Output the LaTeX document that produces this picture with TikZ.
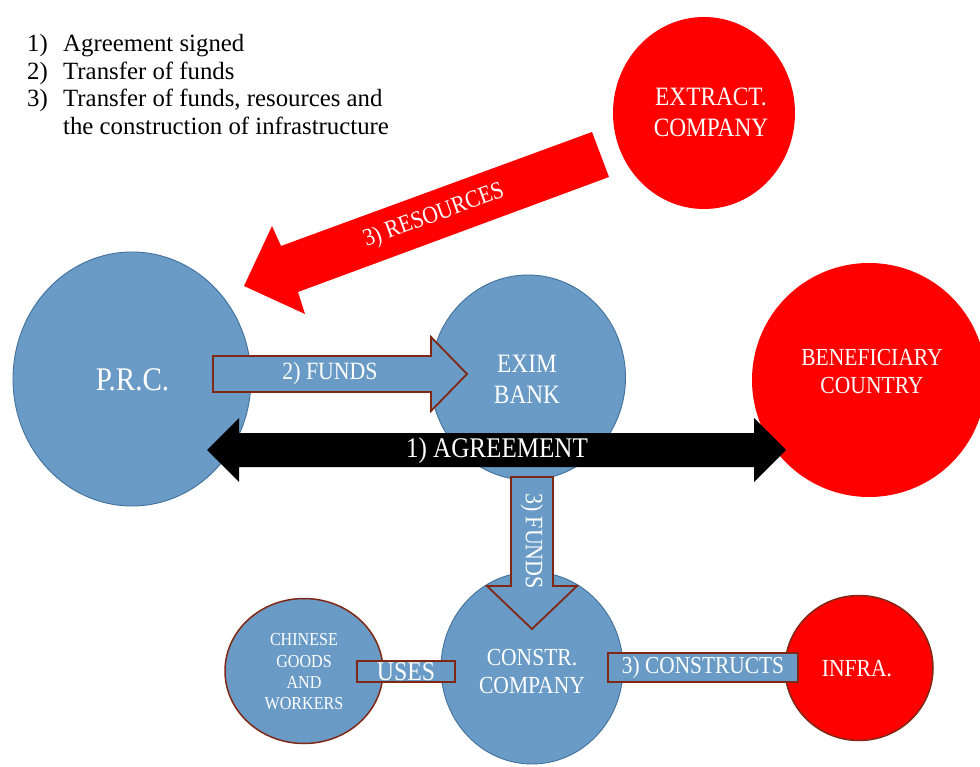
\documentclass[tikz,border=0pt]{standalone}
\usepackage{fontspec}
\setmainfont{Liberation Serif}
\newfontfamily\lab[FakeStretch=0.88]{Liberation Serif}
\usetikzlibrary{shapes.geometric}
\definecolor{cblue}{RGB}{106,155,198}
\definecolor{cblueline}{RGB}{65,113,156}
\definecolor{cred}{RGB}{255,0,0}
\definecolor{cdark}{RGB}{128,40,20}
\newcommand\fsz[2]{\fontsize{#1}{#2}\selectfont}
\begin{document}
\begin{tikzpicture}[x=1pt,y=-1pt,
  circ/.style={ellipse,inner sep=0pt,minimum width=#1},
  bluec/.style={circ=10pt,fill=cblue,draw=cblueline,line width=0.9pt},
  redc/.style={circ=10pt,fill=cred},
  redcb/.style={circ=10pt,fill=cred,draw=cdark,line width=1.5pt},
  bluecb/.style={circ=10pt,fill=cblue,draw=cdark,line width=1.5pt},
  lbl/.style={text=white,inner sep=0pt,align=center},
  blockblue/.style={fill=cblue,draw=cdark,line width=1.8pt,line join=miter},
  legend/.style={anchor=base west,inner sep=0pt,font=\fsz{24.8}{28}},
]
\useasboundingbox (0,0) rectangle (980,767);
\clip (0,0) rectangle (980,767);

% legend
\node[legend] (n1) at (27,52) {1)};
\node[legend] (t1) at (63,52) {Agreement signed};
\node[legend] (n2) at (27,79.5) {2)};
\node[legend] (t2) at (63,79.5) {Transfer of funds};
\node[legend] (n3) at (27,107) {3)};
\node[legend] (t3) at (63,107) {Transfer of funds, resources and};
\node[legend] (t4) at (63,134.5) {the construction of infrastructure};

% circles
\node[bluec,minimum width=238pt,minimum height=254pt] (prc) at (132,379) {};
\node[bluec,minimum width=195pt,minimum height=205pt] (exim) at (528,377.5) {};
\node[redc,minimum width=234pt,minimum height=234pt] (ben) at (869,380) {};
\node[redc,minimum width=182pt,minimum height=192pt] (ext) at (704,113) {};
\node[bluec,minimum width=182pt,minimum height=192pt] (con) at (532,668) {};
\node[bluecb,minimum width=158pt,minimum height=145pt] (chi) at (304,671) {};
\node[redcb,minimum width=148pt,minimum height=145pt] (inf) at (859,668) {};

% circle texts
\node[lbl,font=\lab\fsz{33}{38}] (prcT) at (132.5,380) {P.R.C.};
\node[lbl,font=\lab\fsz{26.5}{31}] (eximT) at (527,379.5) {EXIM\\BANK};
\node[lbl,font=\lab\fsz{24.5}{28}] (benT) at (872,372) {BENEFICIARY\\COUNTRY};
\node[lbl,font=\lab\fsz{26.5}{31}] (extT) at (711,112.5) {EXTRACT.\\COMPANY};
\node[lbl,font=\lab\fsz{24.5}{28}] (conT) at (532,672) {CONSTR.\\COMPANY};
\node[lbl,font=\lab\fsz{18.3}{21.3}] (chiT) at (304,672) {CHINESE\\GOODS\\AND\\WORKERS};
\node[lbl,font=\lab\fsz{24.5}{28}] (infT) at (857,669) {INFRA.};

% 3) resources arrow
\fill[cred] (244,286) -- (272,226) -- (281,246) -- (592,132) -- (609,177) -- (298,292) -- (305,314) -- cycle;
\node[lbl,font=\lab\fsz{24.5}{28},rotate=20] (resT) at (434,216) {3) RESOURCES};

% 2) funds arrow
\draw[blockblue] (213,356) -- (431,356) -- (431,337) -- (467,374) -- (431,411) -- (431,392) -- (213,392) -- cycle;
\node[lbl,font=\lab\fsz{24.8}{28}] (f2T) at (330,374) {2) FUNDS};

% 1) agreement arrow
\fill[black] (207,450) -- (239,418) -- (239,433) -- (754,433) -- (754,418) -- (786,450) -- (754,482) -- (754,467) -- (239,467) -- (239,482) -- cycle;
\node[lbl,font=\lab\fsz{28.5}{32}] (agT) at (497,451) {1) AGREEMENT};

% 3) funds vertical arrow
\draw[blockblue] (511,477) -- (553,477) -- (553,586) -- (577,586) -- (532,629) -- (487,586) -- (511,586) -- cycle;
\node[lbl,font=\lab\fsz{25}{28},rotate=-90] (f3T) at (532,541) {3) FUNDS};

% uses box
\draw[blockblue] (357,661) rectangle (455,682);
\node[lbl,font=\lab\fsz{27}{30}] (usesT) at (406,672) {USES};

% constructs box
\draw[blockblue] (608,653) rectangle (798,682);
\node[lbl,font=\lab\fsz{24.3}{28}] (cstT) at (703,668) {3) CONSTRUCTS};
\end{tikzpicture}
\end{document}
